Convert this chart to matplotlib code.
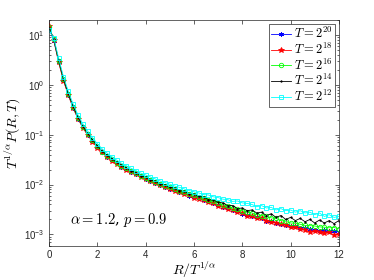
import numpy as np
import matplotlib
matplotlib.use("Agg")
import matplotlib.pyplot as plt

plt.rcParams['mathtext.fontset'] = 'cm'
plt.rcParams['font.family'] = ['Liberation Sans', 'DejaVu Sans']

x = [round(0.2 * i, 1) for i in range(61)]

p20 = [13.8, 7.6, 2.9, 1.25, 0.63, 0.35, 0.21, 0.14, 0.100, 0.074, 0.056, 0.044, 0.036, 0.031,
       0.0265, 0.0230, 0.0204, 0.0180, 0.0160, 0.0146, 0.0131, 0.0118, 0.0108, 0.0098, 0.0091,
       0.0083, 0.0078, 0.0071, 0.0067, 0.0060, 0.0057, 0.0053, 0.0048, 0.0046, 0.0042, 0.0039,
       0.0036, 0.0034, 0.0031, 0.0029, 0.0026, 0.0025, 0.0023, 0.0022, 0.0021, 0.0019, 0.0019,
       0.0017, 0.0016, 0.00158, 0.0015, 0.00145, 0.00138, 0.00135, 0.0013, 0.00125, 0.0012,
       0.00122, 0.00115, 0.00118, 0.00112]
p18 = [15.0, 7.8, 2.8, 1.2, 0.62, 0.34, 0.21, 0.138, 0.098, 0.073, 0.055, 0.044, 0.036, 0.030,
       0.0258, 0.0228, 0.0198, 0.0178, 0.0160, 0.0143, 0.0128, 0.0118, 0.0106, 0.0099, 0.0088,
       0.0083, 0.0075, 0.0071, 0.0064, 0.0061, 0.0055, 0.0052, 0.0049, 0.0044, 0.0042, 0.0038,
       0.0036, 0.0033, 0.0031, 0.0028, 0.0027, 0.0024, 0.0023, 0.0021, 0.0021, 0.0019, 0.0018,
       0.0017, 0.0016, 0.00152, 0.0014, 0.00142, 0.0013, 0.00125, 0.0011, 0.00118, 0.0011,
       0.00105, 0.0011, 0.00098, 0.00102]
p16 = [14.2, 8.1, 3.0, 1.3, 0.66, 0.36, 0.22, 0.145, 0.103, 0.077, 0.058, 0.046, 0.038, 0.032,
       0.0272, 0.0238, 0.0211, 0.0187, 0.0167, 0.0150, 0.0136, 0.0124, 0.0112, 0.0104, 0.0095,
       0.0088, 0.0082, 0.0076, 0.0070, 0.0066, 0.0061, 0.0057, 0.0053, 0.0050, 0.0046, 0.0043,
       0.0039, 0.0037, 0.0034, 0.0032, 0.0030, 0.0028, 0.0027, 0.0025, 0.0024, 0.0023, 0.00215,
       0.0021, 0.0019, 0.00185, 0.0017, 0.00168, 0.0016, 0.00152, 0.0015, 0.00148, 0.00142,
       0.0014, 0.00136, 0.00138, 0.0013]
p14 = [14.0, 8.2, 3.1, 1.32, 0.67, 0.37, 0.225, 0.148, 0.106, 0.079, 0.060, 0.047, 0.039, 0.033,
       0.0280, 0.0243, 0.0216, 0.0190, 0.0172, 0.0152, 0.0140, 0.0125, 0.0116, 0.0104, 0.0098,
       0.0088, 0.0085, 0.0076, 0.0073, 0.0066, 0.0064, 0.0058, 0.0056, 0.0050, 0.0049, 0.0044,
       0.0043, 0.0038, 0.0038, 0.0033, 0.0034, 0.0030, 0.0031, 0.0027, 0.0028, 0.0024, 0.0026,
       0.0022, 0.0024, 0.0020, 0.0022, 0.0019, 0.0021, 0.0018, 0.0020, 0.0017, 0.00195, 0.0017,
       0.0019, 0.00165, 0.0019]
p12 = [12.5, 8.6, 3.4, 1.45, 0.74, 0.41, 0.25, 0.165, 0.118, 0.087, 0.066, 0.052, 0.043, 0.036,
       0.031, 0.0268, 0.0238, 0.0212, 0.0190, 0.0170, 0.0156, 0.0142, 0.0130, 0.0118, 0.0110,
       0.0102, 0.0094, 0.0088, 0.0082, 0.0076, 0.0072, 0.0068, 0.0063, 0.0062, 0.0057, 0.0055,
       0.0051, 0.0050, 0.0046, 0.0047, 0.0043, 0.0042, 0.0040, 0.0036, 0.0038, 0.0034, 0.0035,
       0.0031, 0.0033, 0.0030, 0.0031, 0.0028, 0.0030, 0.0027, 0.0028, 0.0025, 0.0027, 0.0023,
       0.0025, 0.0022, 0.0023]

labels = [r'$T=2^{20}$', r'$T=2^{18}$', r'$T=2^{16}$', r'$T=2^{14}$', r'$T=2^{12}$']
series = [p20, p18, p16, p14, p12]
colors = ['#0000ff', '#ff0000', '#00ff00', '#000000', '#00ffff']
markers = [(6, 2, 0), '*', 'o', '.', 's']
msizes = [3.5, 4.0, 3.2, 2.0, 3.2]
mfcs = ['#0000ff', '#ff0000', 'none', '#000000', 'none']

fig = plt.figure(figsize=(3.74, 2.80), dpi=100)
ax = fig.add_axes([0.131, 0.123, 0.775, 0.806])

for y, lab, c, m, ms, fc in zip(series, labels, colors, markers, msizes, mfcs):
    ax.plot(x, y, color=c, marker=m, markersize=ms, markerfacecolor=fc,
            markeredgecolor=c, markeredgewidth=0.6, linewidth=0.6, label=lab)

ax.set_yscale('log')
ax.set_xlim(0, 12)
ax.set_ylim(6e-4, 20)
ax.set_xticks([0, 2, 4, 6, 8, 10, 12])
ax.set_yticks([1e-3, 1e-2, 1e-1, 1e0, 1e1])
ax.tick_params(axis='both', which='both', direction='in', top=True, right=True,
               labelsize=7, colors='#262626', width=0.5)
ax.tick_params(axis='both', which='major', length=3)
ax.tick_params(axis='both', which='minor', length=1.5)
for lab in ax.get_xticklabels() + ax.get_yticklabels():
    lab.set_color('#262626')
for s in ax.spines.values():
    s.set_linewidth(0.5)
    s.set_color('#262626')

ax.set_xlabel(r'$R/T^{1/\alpha}$', fontsize=10, labelpad=0)
ax.set_ylabel(r'$T^{1/\alpha}P(R,T)$', fontsize=10, labelpad=1)

ax.text(0.85, 0.00165, r'$\alpha=1.2$, $p=0.9$', fontsize=10.5, family='DejaVu Serif',
        math_fontfamily='cm')

leg = ax.legend(loc='upper right', fontsize=9, frameon=True, fancybox=False,
                framealpha=1.0, edgecolor='#262626', handlelength=1.6,
                handletextpad=0.2, borderpad=0.2, labelspacing=0.05, borderaxespad=0.3)
leg.get_frame().set_linewidth(0.5)

fig.savefig('out.png', dpi=100)
